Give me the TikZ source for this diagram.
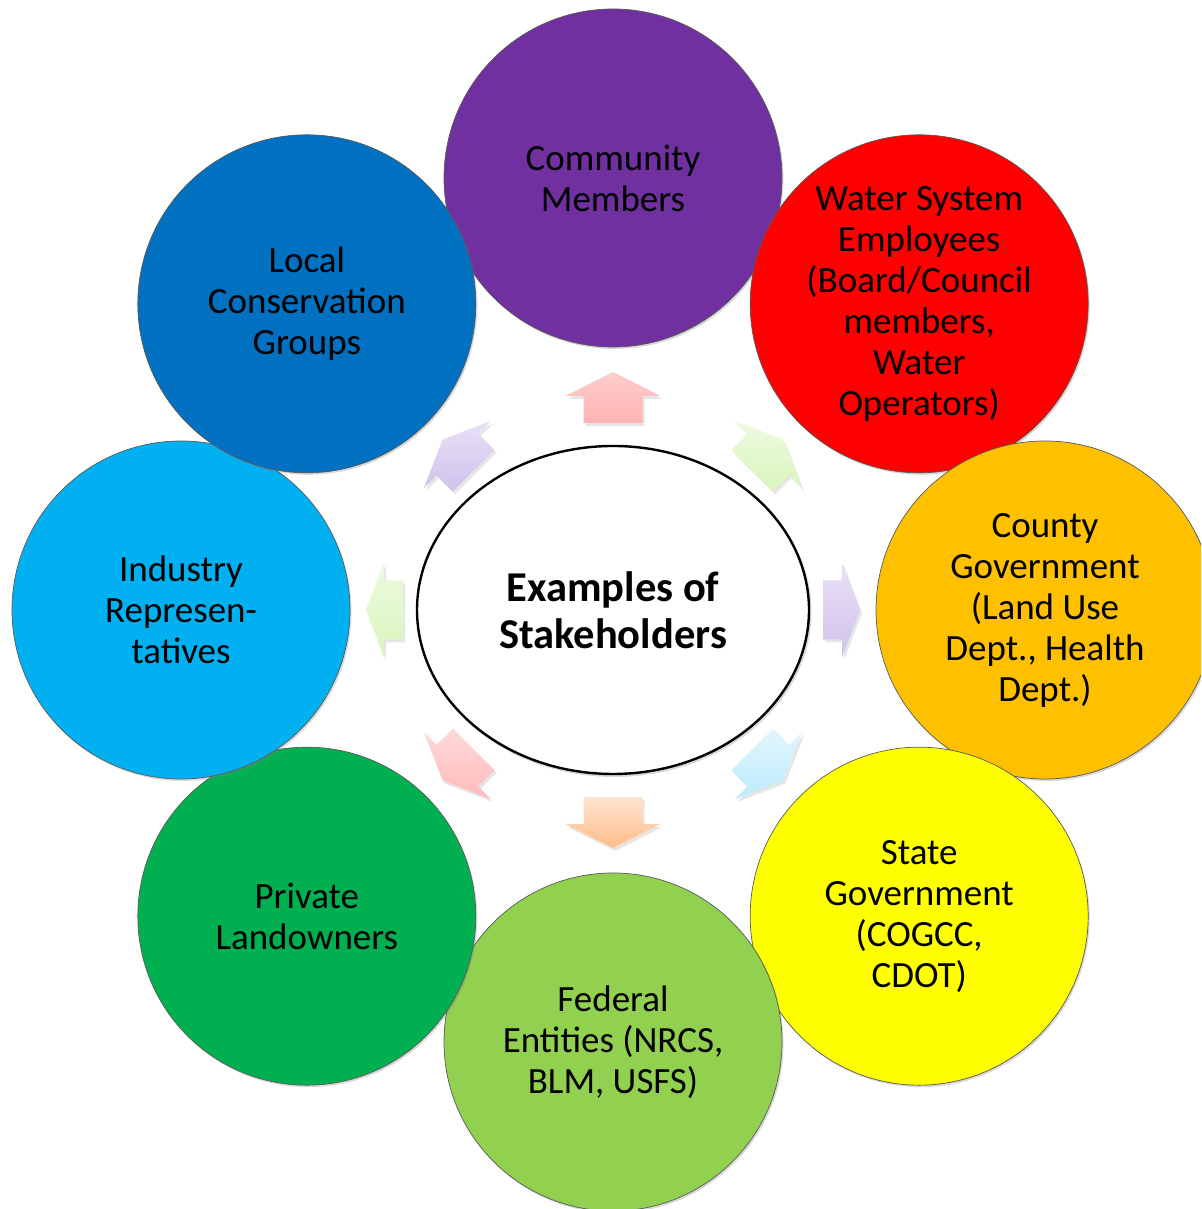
\documentclass[tikz,border=0pt]{standalone}
\usepackage{fontspec}
\setmainfont{Carlito}
\usetikzlibrary{calc,shadows,shapes.geometric}
\definecolor{cPurple}{HTML}{7030A0}
\definecolor{cRed}{HTML}{FF0000}
\definecolor{cOrange}{HTML}{FFC000}
\definecolor{cYellow}{HTML}{FFFF00}
\definecolor{cLGreen}{HTML}{92D050}
\definecolor{cGreen}{HTML}{00B050}
\definecolor{cSky}{HTML}{00B0F0}
\definecolor{cBlue}{HTML}{0070C0}
\definecolor{aPinkT}{HTML}{FFCDCD}\definecolor{aPinkB}{HTML}{FFB3B3}
\definecolor{aGreenT}{HTML}{EDFADF}\definecolor{aGreenB}{HTML}{D9F5BD}
\definecolor{aLavT}{HTML}{E8E0F6}\definecolor{aLavB}{HTML}{D0C2EC}
\definecolor{aBlueT}{HTML}{E2F6FE}\definecolor{aBlueB}{HTML}{BCEAFB}
\definecolor{aPeachT}{HTML}{FFE4D0}\definecolor{aPeachB}{HTML}{FFBC88}
\definecolor{aRoseT}{HTML}{FFDADA}\definecolor{aRoseB}{HTML}{FFB9B9}
\tikzset{
  circ/.style={circle, minimum size=338pt, inner sep=0pt, draw=black!65, line width=0.7pt,
    drop shadow={shadow xshift=1.5pt, shadow yshift=-2pt, opacity=0.3}},
  ctext/.style={align=center, inner sep=0pt, font=\fontsize{37}{41}\selectfont},
  arrstyle/.style={drop shadow={shadow xshift=2pt, shadow yshift=-3pt, opacity=0.2}},
}
\newcommand\blockarr[7]{%
  \pgfmathsetmacro\bL{#4+#5}%
  \pgfmathsetmacro\bback{-\bL/2}%
  \pgfmathsetmacro\bneck{-\bL/2+#4}%
  \pgfmathsetmacro\btip{\bL/2}%
  \pgfmathsetmacro\bperp{#2+90}%
  \coordinate (#1) at ($(ctr)+(#2:#3)$);
  \path[arrstyle, top color=#6, bottom color=#7]
    ($(#1)+(#2:\bback)+(\bperp:29.5)$) --
    ($(#1)+(#2:\bneck)+(\bperp:29.5)$) --
    ($(#1)+(#2:\bneck)+(\bperp:47.5)$) --
    ($(#1)+(#2:\btip)$) --
    ($(#1)+(#2:\bneck)+(\bperp:-47.5)$) --
    ($(#1)+(#2:\bneck)+(\bperp:-29.5)$) --
    ($(#1)+(#2:\bback)+(\bperp:-29.5)$) -- cycle;
}
\begin{document}
\begin{tikzpicture}[x=1pt,y=1pt]
\useasboundingbox (0,0) rectangle (1201,1209);
\clip (0,0) rectangle (1201,1209);
\coordinate (ctr) at (613,599);
% stakeholder circles (drawn in order, later on top)
\node[circ, fill=cPurple] (comm) at ($(ctr)+(90:432)$) {};
\node[circ, fill=cRed] (water) at ($(ctr)+(45:433)$) {};
\node[circ, fill=cOrange] (county) at ($(ctr)+(0:432)$) {};
\node[circ, fill=cYellow] (state) at ($(ctr)+(-45:433)$) {};
\node[circ, fill=cLGreen] (fed) at ($(ctr)+(-90:432)$) {};
\node[circ, fill=cGreen] (priv) at ($(ctr)+(-135:433)$) {};
\node[circ, fill=cSky] (ind) at ($(ctr)+(180:432)$) {};
\node[circ, fill=cBlue] (local) at ($(ctr)+(135:433)$) {};
% labels
\node[ctext] (commT) at (comm) {Community\\Members};
\node[ctext] (waterT) at (water) {Water System\\Employees\\(Board/Council\\members,\\Water\\Operators)};
\node[ctext] (countyT) at (county) {County\\Government\\(Land Use\\Dept., Health\\Dept.)};
\node[ctext] (stateT) at (state) {State\\Government\\(COGCC,\\CDOT)};
\node[ctext] (fedT) at (fed) {Federal\\Entities (NRCS,\\BLM, USFS)};
\node[ctext] (privT) at (priv) {Private\\Landowners};
\node[ctext] (indT) at (ind) {Industry\\Represen-\\tatives};
\node[ctext] (localT) at (local) {Local\\Conservation\\Groups};
% diverging block arrows
\blockarr{a1}{90}{212.5}{27}{24}{aPinkT}{aPinkB}
\blockarr{a2}{45}{219}{23}{21}{aGreenT}{aGreenB}
\blockarr{a3}{0}{228.5}{19}{18}{aLavT}{aLavB}
\blockarr{a4}{-45}{219}{23}{21}{aBlueT}{aBlueB}
\blockarr{a5}{-90}{212.5}{27}{24}{aPeachT}{aPeachB}
\blockarr{a6}{-135}{219}{23}{21}{aRoseT}{aRoseB}
\blockarr{a7}{180}{228.5}{19}{18}{aGreenT}{aGreenB}
\blockarr{a8}{135}{219}{23}{21}{aLavT}{aLavB}
% centre
\path[fill=black, opacity=0.15] ($(ctr)+(1.5,-2)$) ellipse [x radius=197, y radius=165];
\node[ellipse, draw=black, line width=2.4pt, fill=white, minimum width=392pt, minimum height=328pt, inner sep=0pt] (center) at (ctr) {};
\node[align=center, font=\bfseries\fontsize{42.5}{47}\selectfont] (centerT) at (ctr) {Examples of\\Stakeholders};
\end{tikzpicture}
\end{document}
